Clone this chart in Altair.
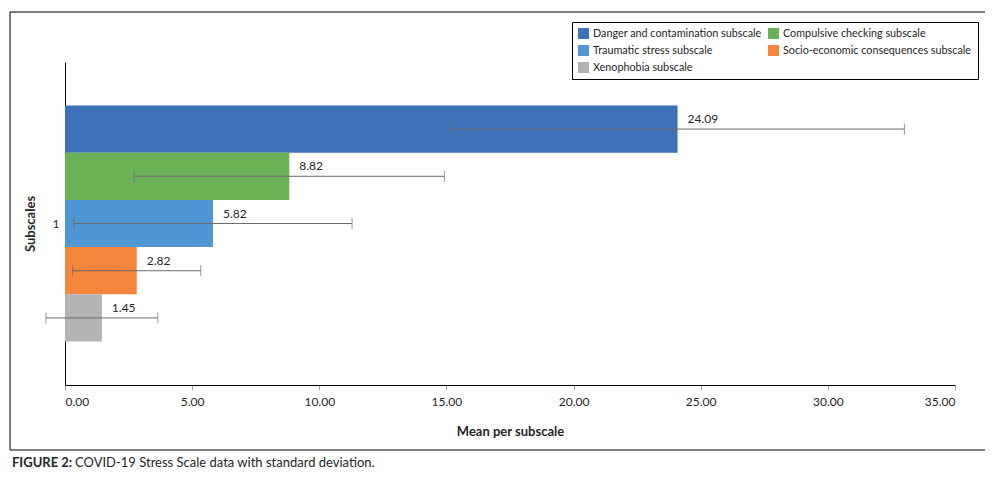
import altair as alt
import pandas as pd

subscales = [
    "Danger and contamination subscale",
    "Compulsive checking subscale",
    "Traumatic stress subscale",
    "Socio-economic consequences subscale",
    "Xenophobia subscale",
]
means = [24.09, 8.82, 5.82, 2.82, 1.45]
sds = [8.92, 6.10, 5.47, 2.52, 2.20]
colors = ["#3d71b8", "#6bb155", "#4f97d3", "#f3853d", "#b3b3b4"]
x_ticks = [0, 5, 10, 15, 20, 25, 30, 35]
caption_bold = "FIGURE 2:"
caption_rest = "COVID-19 Stress Scale data with standard deviation."

FONT = "Lato"
TXT = "#262626"

df = pd.DataFrame({"group": ["1"] * len(subscales), "subscale": subscales,
                   "mean": means, "sd": sds})
df["lo"] = df["mean"] - df["sd"]
df["hi"] = df["mean"] + df["sd"]
df["label"] = [f"{v:.2f}" for v in means]

y_enc = alt.Y("group:N",
              scale=alt.Scale(paddingInner=0, paddingOuter=0.184),
              axis=alt.Axis(title="Subscales", ticks=False, tickSize=0, labelPadding=6,
                            labelFont=FONT, labelFontSize=12, labelColor=TXT,
                            titleFont=FONT, titleFontSize=13, titleFontWeight="bold",
                            titleColor=TXT, titlePadding=15, domainColor="black",
                            labelAngle=0))
yoff = alt.YOffset("subscale:N", sort=subscales,
                   scale=alt.Scale(paddingInner=0, paddingOuter=0))
x_scale = alt.Scale(domain=[0, 35], nice=False, zero=True)

base = alt.Chart(df)

bars = base.mark_bar().encode(
    x=alt.X("mean:Q", scale=x_scale,
            axis=alt.Axis(title="Mean per subscale", values=x_ticks, format=".2f",
                          grid=False, tickSize=5, tickColor="#a6a6a6",
                          domainColor="black", labelFont=FONT, labelFontSize=12,
                          labelColor=TXT, labelPadding=6, titleFont=FONT,
                          titleFontSize=13, titleFontWeight="bold", titleColor=TXT,
                          titlePadding=18)),
    y=y_enc,
    yOffset=yoff,
    color=alt.Color("subscale:N", sort=subscales,
                    scale=alt.Scale(domain=subscales, range=colors),
                    legend=alt.Legend(title=None, orient="none", legendX=507, legendY=-40,
                                      columns=2, direction="horizontal",
                                      symbolType="square", symbolSize=120,
                                      symbolStrokeWidth=0, labelFont=FONT,
                                      labelFontSize=10.8, labelColor=TXT, labelLimit=400,
                                      labelOffset=4, columnPadding=6, rowPadding=5,
                                      padding=6, strokeColor="black", fillColor="white")),
)

err = base.mark_rule(color="#6b6b6b", strokeWidth=1).encode(
    x="lo:Q", x2="hi:Q", y=y_enc, yOffset=yoff)
cap_lo = base.mark_tick(color="#6b6b6b", thickness=1, size=11, orient="vertical").encode(
    x="lo:Q", y=y_enc, yOffset=yoff)
cap_hi = base.mark_tick(color="#6b6b6b", thickness=1, size=11, orient="vertical").encode(
    x="hi:Q", y=y_enc, yOffset=yoff)

labels = base.mark_text(align="left", baseline="middle", dx=10, dy=-10,
                        font=FONT, fontSize=12, color=TXT).encode(
    x="mean:Q", y=y_enc, yOffset=yoff, text="label:N")

frame = alt.Chart(alt.Data(values=[{"k": 1}])).mark_rect(
    fillOpacity=0, stroke="black", strokeWidth=1).encode(
    x=alt.value(-55), x2=alt.value(925), y=alt.value(-50), y2=alt.value(388))

cap1 = alt.Chart(alt.Data(values=[{"t": caption_bold}])).mark_text(
    align="left", baseline="middle", font=FONT, fontSize=13, fontWeight="bold",
    color=TXT).encode(x=alt.value(-53), y=alt.value(401), text="t:N")
cap2 = alt.Chart(alt.Data(values=[{"t": caption_rest}])).mark_text(
    align="left", baseline="middle", font=FONT, fontSize=13, color=TXT).encode(
    x=alt.value(10), y=alt.value(401), text="t:N")

chart = alt.layer(bars, err, cap_lo, cap_hi, labels, frame, cap1, cap2).properties(
    width=890, height=323,
    autosize=alt.AutoSizeParams(type="none"),
    padding={"left": 57, "top": 54, "right": 30, "bottom": 86},
    background="white",
).configure_view(stroke=None)

chart.save("out.html", embed_options={"renderer": "svg", "actions": False})
